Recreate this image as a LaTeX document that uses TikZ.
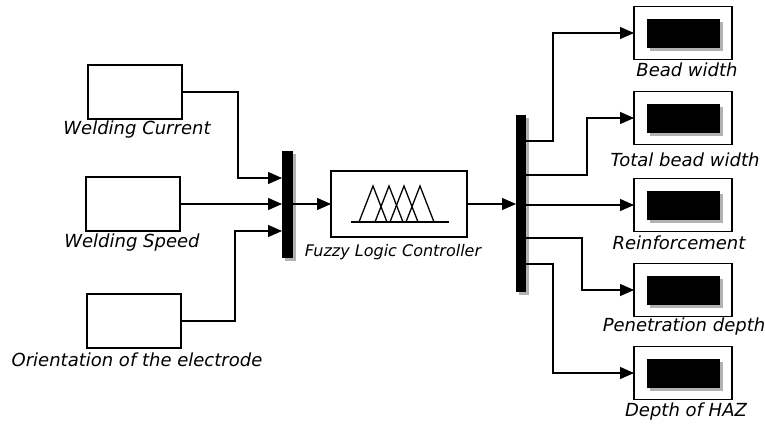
\documentclass[tikz,border=0pt]{standalone}
\usepackage{fontspec}
\setmainfont{DejaVu Sans}
\usetikzlibrary{arrows.meta,shadows}
\begin{document}
\begin{tikzpicture}[x=1pt,y=-1pt,
  box/.style={draw=black,line width=1.4pt,fill=white,inner sep=0pt,outer sep=0pt},
  inbox/.style={box,minimum width=94pt,minimum height=54pt},
  outbox/.style={box,minimum width=98pt,minimum height=53pt},
  disp/.style={fill=black,inner sep=0pt,minimum width=73pt,minimum height=29pt,
    drop shadow={shadow xshift=3pt,shadow yshift=-3pt,fill=black!30,opacity=1}},
  bar/.style={fill=black,inner sep=0pt,outer sep=0pt,minimum width=11pt,
    drop shadow={shadow xshift=3pt,shadow yshift=-3pt,fill=black!30,opacity=1}},
  wire/.style={line width=1.3pt,-{Triangle[length=14pt,width=12pt]}},
  lbl/.style={font=\fontsize{18}{21}\selectfont\itshape,inner sep=0pt},
  slbl/.style={font=\fontsize{16}{19}\selectfont\itshape,inner sep=0pt}]
\useasboundingbox (0,0) rectangle (765,423);
% inputs
\node[inbox] (in1) at (135,92) {};
\node[inbox] (in2) at (133,204) {};
\node[inbox] (in3) at (134,321) {};
\node[lbl] (t1) at (137,130) {Welding Current};
\node[lbl] (t2) at (132,243) {Welding Speed};
\node[lbl] (t3) at (137,360) {Orientation of the electrode};
% mux
\node[bar,minimum height=107pt] (mux1) at (287.5,204) {};
% FLC
\node[box,minimum width=136pt,minimum height=66pt] (flc) at (399,204) {};
\node[slbl] (tf) at (393,252) {Fuzzy Logic Controller};
\draw[line width=1.3pt] (351,222) -- (449,222);
\foreach \px in {373,389,404,420}
  \draw[line width=1.3pt,line join=miter] (\px-14,222) -- (\px,186) -- (\px+14,222);
% demux
\node[bar,minimum width=10pt,minimum height=177pt] (mux2) at (521,203) {};
% outputs
\node[outbox] (o1) at (683,33) {};
\node[outbox] (o2) at (683,118) {};
\node[outbox] (o3) at (683,205) {};
\node[outbox] (o4) at (683,290) {};
\node[outbox] (o5) at (683,373) {};
\foreach \i in {1,...,5} \node[disp] (d\i) at ([xshift=0.5pt]o\i.center) {};
\node[lbl] (u1) at (687,70) {Bead width};
\node[lbl] (u2) at (685,160) {Total bead width};
\node[lbl] (u3) at (679,243) {Reinforcement};
\node[lbl] (u4) at (684,327) {Penetration depth};
\node[lbl] (u5) at (686,412) {Depth of HAZ};
% wires in
\draw[wire] (in1.east) -- ++(56,0) |- ([yshift=26pt]mux1.west);
\draw[wire] (in2.east) -- (mux1.west);
\draw[wire] (in3.east) -- ++(54,0) |- ([yshift=-27pt]mux1.west);
\draw[wire] (mux1.east) -- (flc.west);
\draw[wire] (flc.east) -- (flc.east -| mux2.west);
% wires out
\draw[wire] ([yshift=62pt]mux2.east) -- ++(27,0) |- (o1.west);
\draw[wire] ([yshift=28pt]mux2.east) -- ++(61,0) |- (o2.west);
\draw[wire] (mux2.east |- o3.west) -- (o3.west);
\draw[wire] ([yshift=-35pt]mux2.east) -- ++(56,0) |- (o4.west);
\draw[wire] ([yshift=-61pt]mux2.east) -- ++(27,0) |- (o5.west);
\end{tikzpicture}
\end{document}
